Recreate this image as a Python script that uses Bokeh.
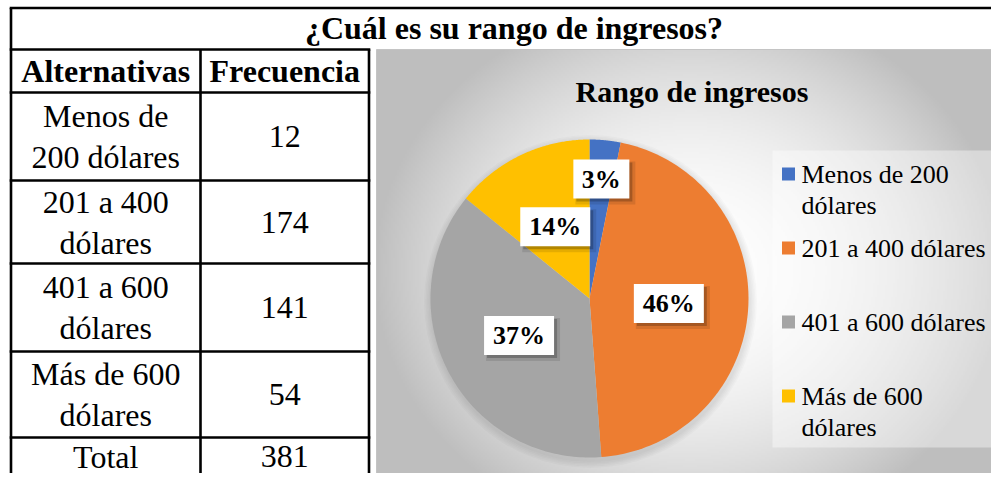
import numpy as np
from bokeh.plotting import figure
from bokeh.models import Range1d, ColumnDataSource
from bokeh.core.properties import value
from bokeh.embed import file_html
from bokeh.resources import INLINE

# ---------------- data ----------------
table_title = "¿Cuál es su rango de ingresos?"
col_headers = ["Alternativas", "Frecuencia"]
categories = ["Menos de 200 dólares", "201 a 400 dólares", "401 a 600 dólares", "Más de 600 dólares"]
cell_lines = [["Menos de", "200 dólares"], ["201 a 400", "dólares"], ["401 a 600", "dólares"], ["Más de 600", "dólares"]]
frequencies = [12, 174, 141, 54]
total_label = "Total"
total_value = 381
chart_title = "Rango de ingresos"
legend_lines = [["Menos de 200", "dólares"], ["201 a 400 dólares"], ["401 a 600 dólares"], ["Más de 600", "dólares"]]
slice_colors = ["#4472C4", "#ED7D31", "#A5A5A5", "#FFC000"]

# ---------------- layout ----------------
FONT = value("Liberation Serif")
W, H = 991, 473


def Y(v):
    return H - v


p = figure(width=W, height=H, x_range=Range1d(0, W), y_range=Range1d(0, H),
           output_backend="svg", toolbar_location=None, min_border=0,
           x_axis_type=None, y_axis_type=None, outline_line_color=None,
           background_fill_color="white", border_fill_color="white")
p.grid.grid_line_color = None

# ---- chart area background (radial gray gradient) ----
CX0, CX1, CY0, CY1 = 376, 1007, 49, 487
nx, ny = 316, 219
gx = CX0 + (np.arange(nx) + 0.5) * (CX1 - CX0) / nx
gy = CY1 - (np.arange(ny) + 0.5) * (CY1 - CY0) / ny
XX, YY = np.meshgrid(gx, gy)
d2 = ((XX - 690) / 300.0) ** 2 + ((YY - 270) / 260.0) ** 2
g = np.clip(255 - 58 * d2, 190, 253).astype(np.uint8)
img = np.empty((ny, nx), dtype=np.uint32)
view = img.view(dtype=np.uint8).reshape((ny, nx, 4))
view[..., 0] = g
view[..., 1] = g
view[..., 2] = g
view[..., 3] = 255
p.image_rgba(image=[img], x=CX0, y=Y(CY1), dw=CX1 - CX0, dh=CY1 - CY0)
p.quad(left=[CX0], right=[CX1], top=[Y(CY0)], bottom=[Y(CY1)], fill_color=None,
       line_color="#c4c4c4", line_width=1)

# ---- legend box ----
p.quad(left=[772], right=[996], top=[Y(150)], bottom=[Y(447)], fill_color="white",
       fill_alpha=0.40, line_color=None)

# ---- pie ----
PCX, PCY, R = 589, 298, 159
total = float(sum(frequencies))
fr = np.concatenate([[0.0], np.cumsum(frequencies)]) / total

for k in range(1, 6):
    p.ellipse(x=[PCX + 1], y=[Y(PCY + 3)], width=[2 * (R + 1.5 * k)], height=[2 * (R + 1.5 * k)],
              fill_color="black", fill_alpha=0.018, line_color=None)

xs, ys = [], []
for i in range(len(frequencies)):
    th = np.linspace(2 * np.pi * fr[i], 2 * np.pi * fr[i + 1], 120)
    xs.append([PCX] + list(PCX + R * np.sin(th)))
    ys.append([Y(PCY)] + list(Y(PCY) + R * np.cos(th)))
p.patches(xs="xs", ys="ys", fill_color="color", line_color=None,
          source=ColumnDataSource(dict(xs=xs, ys=ys, color=slice_colors, cat=categories)))

# ---- data labels ----
label_radius = [0.755, 0.5, 0.5, 0.5]
lab_txt, lab_x, lab_y, lab_w = [], [], [], []
for i, f in enumerate(frequencies):
    txt = "%d%%" % round(100 * f / total)
    mid = np.pi * (fr[i] + fr[i + 1])
    lab_txt.append(txt)
    lab_x.append(PCX + label_radius[i] * R * np.sin(mid))
    lab_y.append(Y(PCY) + label_radius[i] * R * np.cos(mid))
    lab_w.append(28 + 14 * len(txt))
lab_h = 39
p.rect(x=[x + 4 for x in lab_x], y=[y - 4 for y in lab_y], width=[w + 4 for w in lab_w], height=lab_h + 4,
       fill_color="black", fill_alpha=0.10, line_color=None)
p.rect(x=[x + 3 for x in lab_x], y=[y - 3 for y in lab_y], width=lab_w, height=lab_h,
       fill_color="black", fill_alpha=0.22, line_color=None)
p.rect(x=lab_x, y=lab_y, width=lab_w, height=lab_h, fill_color="white", line_color=None)
p.text(x=lab_x, y=lab_y, text=lab_txt, text_font=FONT, text_font_size="26px",
       text_font_style="bold", text_align="center", text_baseline="middle", text_color="black")

# ---- chart title ----
p.text(x=[(CX0 + CX1) / 2], y=[Y(91)], text=[chart_title], text_font=FONT, text_font_size="30px",
       text_font_style="bold", text_align="center", text_baseline="middle", text_color="black")

# ---- legend ----
leg_x, leg_y, leg_txt = [], [], []
sq_y = []
for i, lines in enumerate(legend_lines):
    cy = 173.5 + 74 * i
    sq_y.append(Y(cy))
    for j, ln in enumerate(lines):
        leg_x.append(801)
        leg_y.append(Y(cy + 31.5 * j))
        leg_txt.append(ln)
p.rect(x=788, y=sq_y, width=13, height=13, fill_color=slice_colors, line_color=None)
p.text(x=leg_x, y=leg_y, text=leg_txt, text_font=FONT, text_font_size="26px",
       text_align="left", text_baseline="middle", text_color="black")

# ---- table grid ----
TL, CD, TR, FR = 10.5, 200, 368.5, 1007
rows = [92, 180, 263, 351, 437, 489]
sx0 = [TL - 1.3, TL - 1.3]
sy0 = [Y(7.5), Y(49)]
sx1 = [FR, TR + 1.3]
sy1 = [Y(7.5), Y(49)]
for r in rows[:-1]:
    sx0.append(TL - 1.3); sy0.append(Y(r)); sx1.append(TR + 1.3); sy1.append(Y(r))
for vx, vtop in [(TL, 7.5), (CD, 49), (TR, 49)]:
    sx0.append(vx); sy0.append(Y(vtop)); sx1.append(vx); sy1.append(Y(489))
p.segment(x0=sx0, y0=sy0, x1=sx1, y1=sy1, line_color="black", line_width=2.6)

# ---- table text ----
C1 = (TL + CD) / 2
C2 = (CD + TR) / 2
p.text(x=[513.5], y=[Y(27)], text=[table_title], text_font=FONT, text_font_size="32px",
       text_font_style="bold", text_align="center", text_baseline="middle", text_color="black")
p.text(x=[C1, C2], y=[Y(70.5), Y(70.5)], text=col_headers, text_font=FONT, text_font_size="32px",
       text_font_style="bold", text_align="center", text_baseline="middle", text_color="black")

tx, ty, tt = [], [], []
for i, lines in enumerate(cell_lines):
    rc = (rows[i] + rows[i + 1]) / 2
    n = len(lines)
    for j, ln in enumerate(lines):
        tx.append(C1); ty.append(Y(rc + (j - (n - 1) / 2) * 41)); tt.append(ln)
    tx.append(C2); ty.append(Y(rc)); tt.append(str(frequencies[i]))
# total row: the page ends at 473px, keep its text fully visible
tx += [C1, C2]; ty += [Y(456), Y(456)]; tt += [total_label, str(total_value)]
p.text(x=tx, y=ty, text=tt, text_font=FONT, text_font_size="32px",
       text_align="center", text_baseline="middle", text_color="black")

open("out.html", "w").write(file_html(p, INLINE))
